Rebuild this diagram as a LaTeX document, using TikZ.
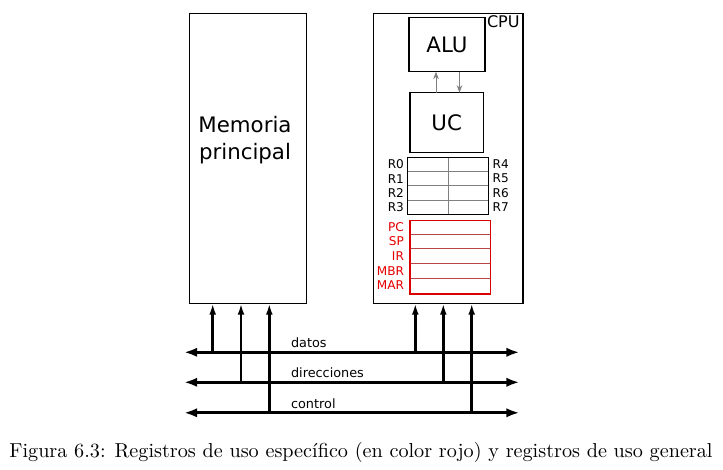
\documentclass[tikz,border=0pt]{standalone}
\usepackage{fontspec}
\setsansfont{DejaVu Sans}
\usetikzlibrary{arrows.meta}

\begin{document}
\begin{tikzpicture}[x=0.53pt,y=-0.53pt,
    reg/.style={font=\sffamily\fontsize{6.4}{7}\selectfont,inner sep=0},
    buslabel/.style={font=\sffamily\fontsize{6.8}{8}\selectfont,inner sep=0,anchor=west},
    big/.style={font=\sffamily\fontsize{11.3}{14.5}\selectfont},
    bus/.style={line width=1.6pt,{Latex[length=7pt,width=5pt]}-{Latex[length=7pt,width=5pt]}},
    link/.style={line width=1.3pt,-{Latex[length=6pt,width=3.6pt]}}]
        \useasboundingbox (0,0) rectangle (723,470);

        % bloques
        \draw[thick] (189.5,13.3) rectangle (306.5,303.3);
        \node[big,align=center] (mem) at (245,140) {Memoria\\principal};
        \coordinate (memb) at (248,303.3);
        \draw[thick] (373.3,13.3) rectangle (523,303.3);
        \node[font=\sffamily\fontsize{8.5}{10}\selectfont,anchor=north east,inner sep=0] (cpu) at (520,15) {CPU};
        \coordinate (cpub) at (448,303.3);

        \draw[thick] (409,17.3) rectangle (485,71.7);
        \node[big] (alu) at (447,44.5) {ALU};
        \draw[thick] (410,92.7) rectangle (483.5,152.7);
        \node[big] (uc) at (446.7,122.7) {UC};
        \draw[gray,-{Stealth[length=4pt,width=3pt]}] (436,92.7) -- (436,71.7);
        \draw[gray,-{Stealth[length=4pt,width=3pt]}] (459.5,71.7) -- (459.5,92.7);

        % registros generales
        \draw[gray] (448.7,157.3) -- (448.7,214.3);
        \foreach \y in {171.5,185.7,199.9}
            \draw[gray] (407.7,\y) -- (488.7,\y);
        \draw[thick] (407.7,157.3) rectangle (488.7,214.3);
        \foreach \i/\y in {0/164.4,1/178.6,2/192.8,3/207}{
            \node[reg,anchor=east] (r\i) at (404.3,\y) {R\i};
            \pgfmathtruncatemacro{\j}{\i+4}
            \node[reg,anchor=west] (r\j) at (492.3,\y) {R\j};
        }

        % registros especificos
        \foreach \y in {234.2,248.8,263.4,278}
            \draw[red!45!gray] (410,\y) -- (490.3,\y);
        \draw[red!85!black,thick] (410,220.5) rectangle (490.3,294);
        \foreach \n/\t/\y in {pc/PC/227.4,sp/SP/241.6,ir/IR/256.2,mbr/MBR/270.8,mar/MAR/285.4}
            \node[reg,anchor=east,text=red!90!black] (\n) at (404.3,\y) {\t};

        % buses
        \coordinate (dl) at (184,352.3);  \coordinate (dr) at (519.5,352.3);
        \coordinate (al) at (184,382.3);  \coordinate (ar) at (519.5,382.3);
        \coordinate (cl) at (184,412.8);  \coordinate (cr) at (519.5,412.8);
        \draw[bus] (dl) -- (dr);
        \draw[bus] (al) -- (ar);
        \draw[bus] (cl) -- (cr);
        \node[buslabel] (datos) at (290.7,342.7) {datos};
        \node[buslabel] (dir) at (290.7,372.7) {direcciones};
        \node[buslabel] (ctrl) at (290.7,403.3) {control};

        \foreach \x/\b in {212.7/dl,241/al,269.3/cl}
            \draw[link] (\b -| \x,0) -- (memb -| \x,0);
        \foreach \x/\b in {415.3/dl,443.3/al,471.7/cl}
            \draw[link] (\b -| \x,0) -- (cpub -| \x,0);

        \node[font=\fontsize{10.7}{13}\selectfont] (cap) at (361,452) {Figura 6.3: Registros de uso espec\'ifico (en color rojo) y registros de uso general};
\end{tikzpicture}
\end{document}
